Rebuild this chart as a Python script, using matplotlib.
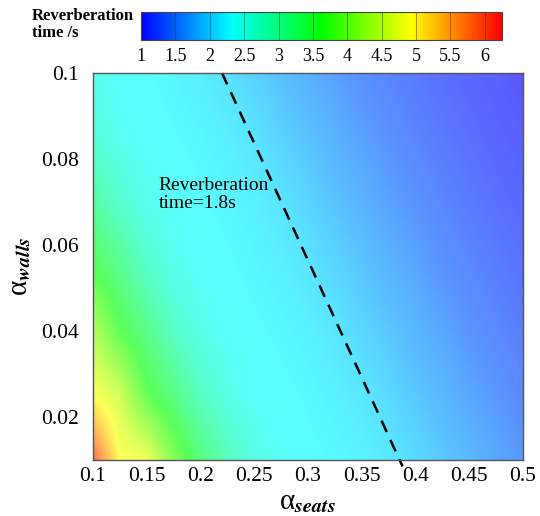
import numpy as np
import matplotlib
matplotlib.use("Agg")
import matplotlib.pyplot as plt
from matplotlib.colors import LinearSegmentedColormap, ListedColormap, Normalize
from matplotlib.cm import ScalarMappable

plt.rcParams['font.family'] = ['Liberation Serif', 'DejaVu Serif']
plt.rcParams['mathtext.fontset'] = 'stix'

# grid of absorption coefficients
alpha_seats = [0.1, 0.125, 0.15, 0.175, 0.2, 0.225, 0.25, 0.275, 0.3,
               0.325, 0.35, 0.375, 0.4, 0.425, 0.45, 0.475, 0.5]
alpha_walls = [0.01, 0.025, 0.04, 0.055, 0.07, 0.085, 0.1]

# reverberation time (s), one row per alpha_walls value
rt_w010 = [6.10, 4.95, 4.85, 4.00, 3.33, 2.85, 2.52, 2.38, 2.32, 2.28, 2.23, 2.15, 2.03, 1.90, 1.78, 1.63, 1.51]
rt_w025 = [4.92, 4.60, 3.75, 3.29, 2.80, 2.50, 2.37, 2.32, 2.28, 2.22, 2.14, 2.02, 1.89, 1.76, 1.62, 1.50, 1.40]
rt_w040 = [4.35, 3.70, 3.24, 2.76, 2.48, 2.37, 2.31, 2.27, 2.22, 2.13, 2.00, 1.88, 1.75, 1.61, 1.48, 1.39, 1.30]
rt_w055 = [3.62, 3.20, 2.72, 2.46, 2.36, 2.31, 2.26, 2.21, 2.12, 1.99, 1.87, 1.74, 1.60, 1.47, 1.38, 1.29, 1.21]
rt_w070 = [3.05, 2.69, 2.45, 2.36, 2.31, 2.26, 2.21, 2.11, 1.98, 1.86, 1.72, 1.58, 1.47, 1.37, 1.28, 1.20, 1.13]
rt_w085 = [2.62, 2.43, 2.35, 2.30, 2.26, 2.20, 2.10, 1.97, 1.85, 1.71, 1.57, 1.46, 1.36, 1.27, 1.20, 1.12, 1.06]
rt_w100 = [2.42, 2.35, 2.30, 2.25, 2.19, 2.09, 1.96, 1.83, 1.70, 1.56, 1.45, 1.35, 1.27, 1.19, 1.12, 1.06, 1.00]

# the 1.8 s iso-line as drawn on the chart
rt18_seats = [0.22, 0.388]
rt18_walls = [0.1, 0.0085]

cbar_ticks = [1, 1.5, 2, 2.5, 3, 3.5, 4, 4.5, 5, 5.5, 6]
x_ticks = [0.1, 0.15, 0.2, 0.25, 0.3, 0.35, 0.4, 0.45, 0.5]
y_ticks = [0.02, 0.04, 0.06, 0.08, 0.1]

rt = np.array([rt_w010, rt_w025, rt_w040, rt_w055, rt_w070, rt_w085, rt_w100])

rainbow = LinearSegmentedColormap.from_list(
    "rainbow5", ["#0000ff", "#00ffff", "#00ff00", "#ffff00", "#ff0000"])
pale = ListedColormap(rainbow(np.linspace(0, 1, 256))[:, :3] * 0.65 + 0.35)
norm = Normalize(vmin=1, vmax=6.25)

fig = plt.figure(figsize=(5.4, 5.16), dpi=100)
ax = fig.add_axes([0.1722, 0.1085, 0.7963, 0.75])

# pixel centres sit on the grid nodes
dx = (alpha_seats[1] - alpha_seats[0]) / 2
dy = (alpha_walls[1] - alpha_walls[0]) / 2
ax.imshow(rt, origin='lower', cmap=pale, norm=norm, interpolation='bilinear', aspect='auto',
          extent=[alpha_seats[0] - dx, alpha_seats[-1] + dx, alpha_walls[0] - dy, alpha_walls[-1] + dy])
ax.plot(rt18_seats, rt18_walls, color='black', lw=1.8, ls=(0, (5, 3.5)), clip_on=False)
ax.text(0.161, 0.0758, "Reverberation\ntime=1.8s", fontsize=14, va='top', ha='left',
        linespacing=1.1)

ax.set_xlim(0.1, 0.5)
ax.set_ylim(0.01, 0.1)
ax.set_xticks(x_ticks)
ax.set_xticklabels([f"{v:g}" for v in x_ticks])
ax.set_yticks(y_ticks)
ax.set_yticklabels([f"{v:g}" for v in y_ticks])
ax.tick_params(length=0, labelsize=15.5)
ax.tick_params(axis='y', pad=10)
ax.tick_params(axis='x', pad=5)
for s in ax.spines.values():
    s.set_color('#555555')
    s.set_linewidth(1.0)

ax.set_xlabel('\u03b1' + r'$_{\mathbfit{seats}}$', fontsize=21, labelpad=2)
ax.set_ylabel('\u03b1' + r'$_{\mathbfit{walls}}$', fontsize=21, labelpad=6)

# colour legend on top
cax = fig.add_axes([0.2611, 0.9225, 0.6685, 0.0543])
cb = fig.colorbar(ScalarMappable(norm=norm, cmap=rainbow), cax=cax, orientation='horizontal')
cb.set_ticks(cbar_ticks)
cb.set_ticklabels([f"{v:g}" for v in cbar_ticks])
cax.tick_params(length=0, labelsize=13, pad=6)
cb.outline.set_edgecolor('#444444')
cb.outline.set_linewidth(0.8)
for v in cbar_ticks[1:]:
    cax.axvline(v, color='#333333', lw=0.6, alpha=0.6)

fig.text(0.059, 0.985, "Reverberation\ntime /s", fontsize=12, fontweight='bold',
         va='top', ha='left', linespacing=1.1)

fig.savefig("out.png", dpi=100)
